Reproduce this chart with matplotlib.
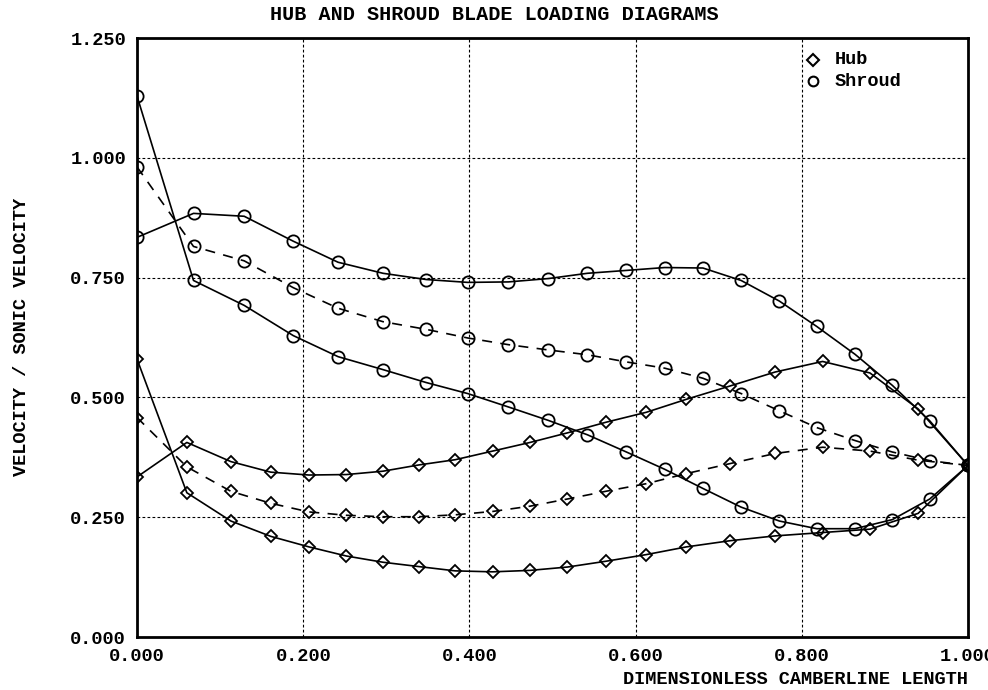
import matplotlib
matplotlib.use("Agg")
import matplotlib.pyplot as plt

# hub (diamonds) and shroud (circles) blade loading
hub_x = [0.000, 0.060, 0.113, 0.161, 0.207, 0.252, 0.296, 0.339, 0.383, 0.428, 0.473,
         0.518, 0.564, 0.613, 0.661, 0.714, 0.768, 0.825, 0.882, 0.940, 1.000]
hub_a = [0.334, 0.406, 0.366, 0.344, 0.338, 0.339, 0.346, 0.359, 0.370, 0.388, 0.406,
         0.426, 0.448, 0.469, 0.496, 0.524, 0.553, 0.575, 0.551, 0.476, 0.358]
hub_mean = [0.458, 0.355, 0.304, 0.279, 0.261, 0.254, 0.251, 0.251, 0.255, 0.262, 0.273,
            0.288, 0.304, 0.320, 0.341, 0.362, 0.383, 0.396, 0.388, 0.369, 0.358]
hub_b = [0.580, 0.301, 0.242, 0.210, 0.188, 0.169, 0.156, 0.147, 0.138, 0.136, 0.139,
         0.146, 0.158, 0.172, 0.188, 0.201, 0.211, 0.218, 0.225, 0.258, 0.358]

shroud_x = [0.000, 0.068, 0.129, 0.188, 0.242, 0.296, 0.348, 0.398, 0.447, 0.495, 0.542,
            0.589, 0.635, 0.681, 0.727, 0.773, 0.818, 0.864, 0.909, 0.954, 1.000]
shroud_a = [0.834, 0.884, 0.878, 0.826, 0.782, 0.759, 0.746, 0.740, 0.741, 0.748, 0.759,
            0.765, 0.771, 0.770, 0.744, 0.701, 0.648, 0.590, 0.525, 0.451, 0.358]
shroud_mean = [0.981, 0.815, 0.785, 0.729, 0.686, 0.658, 0.642, 0.624, 0.610, 0.599, 0.589,
               0.574, 0.561, 0.540, 0.508, 0.472, 0.437, 0.410, 0.386, 0.368, 0.358]
shroud_b = [1.129, 0.744, 0.692, 0.629, 0.585, 0.558, 0.531, 0.508, 0.480, 0.452, 0.422,
            0.386, 0.350, 0.310, 0.271, 0.242, 0.226, 0.226, 0.245, 0.288, 0.358]

x_ticks = [0.0, 0.2, 0.4, 0.6, 0.8, 1.0]
y_ticks = [0.0, 0.25, 0.5, 0.75, 1.0, 1.25]

plt.rcParams['font.family'] = ['Liberation Mono', 'DejaVu Sans Mono']
plt.rcParams['font.weight'] = 'bold'
plt.rcParams['font.size'] = 13.4

fig = plt.figure(figsize=(9.88, 6.90), dpi=100)
ax = fig.add_axes([137 / 988, 53 / 690, 831 / 988, 599 / 690])

dash = (0, (6, 5))
mk = dict(color='black', linewidth=1.2, fillstyle='none', markeredgewidth=1.3)

ax.plot(hub_x, hub_a, marker='D', markersize=6.5, linestyle='-', **mk)
ax.plot(hub_x, hub_mean, marker='D', markersize=6.5, linestyle=dash, **mk)
ax.plot(hub_x, hub_b, marker='D', markersize=6.5, linestyle='-', **mk)

ax.plot(shroud_x, shroud_a, marker='o', markersize=8.8, linestyle='-', **mk)
ax.plot(shroud_x, shroud_mean, marker='o', markersize=8.8, linestyle=dash, **mk)
ax.plot(shroud_x, shroud_b, marker='o', markersize=8.8, linestyle='-', **mk)

ax.set_xlim(0, 1)
ax.set_ylim(0, 1.25)
ax.set_xticks(x_ticks)
ax.set_yticks(y_ticks)
ax.set_xticklabels(["%.3f" % v for v in x_ticks])
ax.set_yticklabels(["%.3f" % v for v in y_ticks])
ax.tick_params(length=0, pad=8)
ax.grid(True, color='black', linestyle=(0, (2.5, 2)), linewidth=0.8)

for s in ax.spines.values():
    s.set_linewidth(2)

# legend drawn by hand, no frame
ax.plot([0.813], [1.205], marker='D', markersize=6.5, color='black',
        fillstyle='none', markeredgewidth=1.5, linestyle='none')
ax.plot([0.813], [1.16], marker='o', markersize=7, color='black',
        fillstyle='none', markeredgewidth=1.5, linestyle='none')
ax.text(0.840, 1.205, "Hub", va='center', ha='left')
ax.text(0.840, 1.16, "Shroud", va='center', ha='left')

fig.text(0.5, 1 - 15 / 690, "HUB AND SHROUD BLADE LOADING DIAGRAMS", ha='center',
         va='center', fontsize=14.5)
fig.text(22 / 988, 1 - 337 / 690, "VELOCITY / SONIC VELOCITY", rotation=90,
         ha='center', va='center')
fig.text(968 / 988, 1 - 680 / 690, "DIMENSIONLESS CAMBERLINE LENGTH", ha='right', va='center')

fig.savefig("out.png", dpi=100)
